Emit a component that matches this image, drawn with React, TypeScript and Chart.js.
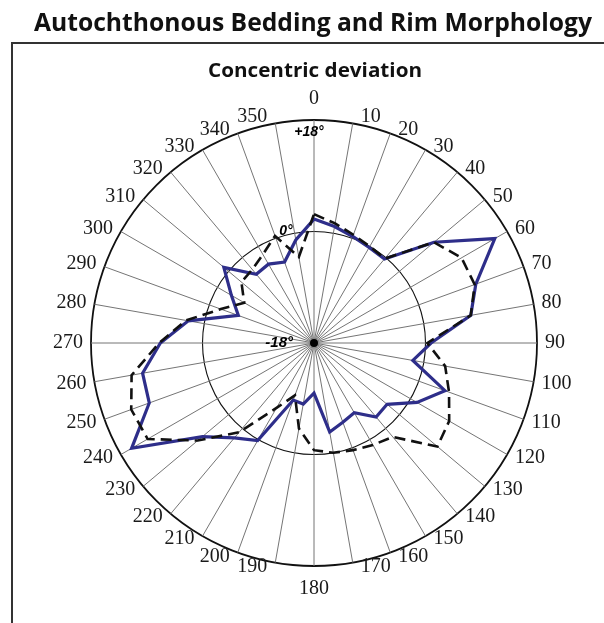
import React, { useEffect, useRef } from 'react';
import { Chart, registerables } from 'chart.js';

Chart.register(...registerables);

// ---- data ----
const angleLabels = ['0', '10', '20', '30', '40', '50', '60', '70', '80', '90', '100', '110', '120', '130', '140', '150', '160', '170',
  '180', '190', '200', '210', '220', '230', '240', '250', '260', '270', '280', '290', '300', '310', '320', '330', '340', '350'];

const solidSeries = [2.0, 1.1, 0.3, -0.2, -0.3, 7.3, 15.7, 9.8, 7.7, 0.9, -1.8, 4.5, 1.2, -2.6, -2.4, -5.0, -4.4, -3.4,
  -9.9, -8.0, -8.2, 0.2, 2.0, 5.5, 16.0, 10.3, 10.1, 6.8, 2.6, -5.0, -2.6, 1.0, -3.5, -3.3, -4.1, -1.1];

const dashedSeries = [2.8, 1.6, 0.6, 0.0, -0.2, 7.3, 9.5, 9.6, 7.7, 0.3, 3.5, 5.2, 7.2, 8.0, 1.8, 1.0, 0.4, 0.0,
  -0.7, -4.0, -9.0, -5.9, 0.8, 6.5, 13.0, 13.4, 11.9, 7.0, 3.0, -2.0, -5.0, -2.7, -2.5, -1.5, 0.4, -3.9];

const tickValues = [18, 0, -18];
const tickTexts = ['+18°', '0°', '-18°'];

const titleText = 'Autochthonous Bedding and Rim Morphology';
const subtitleText = 'Concentric deviation';

const W = 604;
const H = 623;

function drawFitted(ctx: CanvasRenderingContext2D, text: string, font: string, cx: number, baseline: number, targetW: number) {
  ctx.save();
  ctx.font = font;
  const w = ctx.measureText(text).width;
  const sx = targetW / w;
  ctx.translate(cx, baseline);
  ctx.scale(sx, 1);
  ctx.textAlign = 'center';
  ctx.textBaseline = 'alphabetic';
  ctx.fillStyle = '#111';
  ctx.fillText(text, 0, 0);
  ctx.restore();
}

const decorPlugin = {
  id: 'decor',
  beforeDraw(chart: any) {
    const ctx: CanvasRenderingContext2D = chart.ctx;
    ctx.save();
    ctx.fillStyle = '#ffffff';
    ctx.fillRect(0, 0, chart.width, chart.height);
    ctx.strokeStyle = '#333';
    ctx.lineWidth = 2;
    ctx.strokeRect(12, 43, 800, 800);
    ctx.restore();
    drawFitted(ctx, titleText, 'bold 25px "Open Sans"', 313, 31, 558);
    drawFitted(ctx, subtitleText, 'bold 19px "Open Sans"', 315, 77, 214);
  },
  afterDraw(chart: any) {
    const ctx: CanvasRenderingContext2D = chart.ctx;
    const scale = chart.scales.r;
    const R = scale.drawingArea;
    const cx = scale.xCenter;
    const cy = scale.yCenter;

    // center dot
    ctx.save();
    ctx.fillStyle = '#000';
    ctx.beginPath();
    ctx.arc(cx, cy, 4, 0, Math.PI * 2);
    ctx.fill();
    ctx.restore();

    // angle labels
    ctx.save();
    ctx.font = '20px "Liberation Serif"';
    ctx.fillStyle = '#1a1a1a';
    ctx.textBaseline = 'middle';
    angleLabels.forEach((lab, i) => {
      const p = scale.getPointPosition(i, R);
      const th = (i * 360 / angleLabels.length) * Math.PI / 180;
      const s = Math.sin(th);
      const c = Math.cos(th);
      const as = Math.abs(s);
      const ac = Math.abs(c);
      let x = p.x;
      if (as < 0.01) {
        ctx.textAlign = 'center';
      } else if (s > 0) {
        ctx.textAlign = 'left';
        x += 8;
      } else {
        ctx.textAlign = 'right';
        x -= 8;
      }
      let off = 0;
      if (ac > 0.999) off = c > 0 ? 21 : 23;
      else if (ac > 0.98) off = c > 0 ? 7 : 4;
      else if (ac > 0.9) off = 4;
      else if (ac > 0.2) off = 3;
      else if (ac > 0.1) off = 2;
      const y = p.y - Math.sign(c) * off;
      ctx.fillText(lab, x, y);
    });
    ctx.restore();

    // scale value labels
    ctx.save();
    ctx.font = 'italic bold 14px "Liberation Sans"';
    ctx.fillStyle = '#000';
    ctx.textBaseline = 'middle';
    tickValues.forEach((v, k) => {
      const d = scale.getDistanceFromCenterForValue(v);
      if (v === 18) {
        ctx.textAlign = 'center';
        ctx.fillText(tickTexts[k], cx - 5, cy - d + 12);
      } else if (v === 0) {
        ctx.textAlign = 'center';
        ctx.fillText(tickTexts[k], cx - 28, cy - d);
      } else {
        ctx.font = 'italic bold 15px "Liberation Sans"';
        ctx.textAlign = 'right';
        ctx.fillText(tickTexts[k], cx - 21, cy);
      }
    });
    ctx.restore();
  },
};

export default function App() {
  const ref = useRef<HTMLCanvasElement | null>(null);

  useEffect(() => {
    if (!ref.current) return;
    const chart = new Chart(ref.current, {
      type: 'radar',
      data: {
        labels: angleLabels,
        datasets: [
          {
            label: 'dashed',
            data: dashedSeries,
            borderColor: '#111111',
            borderWidth: 2.6,
            borderDash: [11, 6],
            fill: false,
            pointRadius: 0,
            tension: 0,
          },
          {
            label: 'solid',
            data: solidSeries,
            borderColor: '#2e2e8a',
            borderWidth: 3.2,
            fill: false,
            pointRadius: 0,
            tension: 0,
          },
        ],
      },
      options: {
        responsive: false,
        animation: false,
        events: [],
        layout: { padding: { left: 91, right: 67, top: 120, bottom: 57 } },
        plugins: {
          legend: { display: false },
          tooltip: { enabled: false },
          title: { display: false },
        },
        scales: {
          r: {
            min: -18,
            max: 18,
            beginAtZero: false,
            ticks: { display: false, stepSize: 18 },
            pointLabels: { display: false },
            angleLines: { display: true, color: '#757575', lineWidth: 1 },
            grid: {
              circular: true,
              color: '#111',
              lineWidth: (c: any) => (c.tick && c.tick.value === 18 ? 1.8 : 1.1),
            },
          },
        },
      },
      plugins: [decorPlugin],
    } as any);
    return () => chart.destroy();
  }, []);

  return (
    <div style={{ position: 'absolute', left: 0, top: 0, width: W, height: H }}>
      <canvas ref={ref} width={W} height={H} style={{ display: 'block' }} />
    </div>
  );
}
